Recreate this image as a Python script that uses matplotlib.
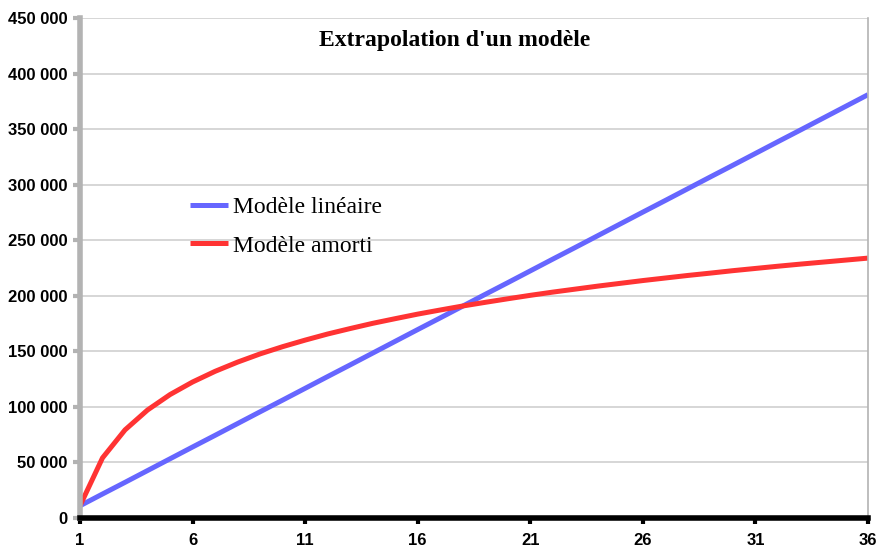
import matplotlib
matplotlib.use("Agg")
import matplotlib.pyplot as plt
from matplotlib.ticker import FuncFormatter

# valeurs
periodes = list(range(1, 37))
lineaire = [11000, 21600, 32100, 42700, 53300, 63900, 74400, 85000, 95600, 106100,
            116700, 127300, 137800, 148400, 159000, 169600, 180100, 190700, 201300, 211800,
            222400, 233000, 243500, 254100, 264700, 275300, 285800, 296400, 307000, 317500,
            328100, 338700, 349200, 359800, 370400, 381000]
amorti = [11000, 54100, 79300, 97200, 111100, 122400, 132000, 140300, 147700, 154200,
          160100, 165600, 170500, 175200, 179400, 183500, 187200, 190800, 194100, 197300,
          200400, 203300, 206000, 208700, 211200, 213700, 216000, 218300, 220400, 222600,
          224600, 226600, 228500, 230300, 232100, 233900]
xticks = [1, 6, 11, 16, 21, 26, 31, 36]
yticks = list(range(0, 450001, 50000))

fig = plt.figure(figsize=(8.8, 5.5), dpi=100)
ax = fig.add_axes([80 / 880, 32 / 550, 788 / 880, 500 / 550])

ax.plot(periodes, lineaire, color="#6666ff", lw=3.6, label="Modèle linéaire", solid_capstyle="butt")
ax.plot(periodes, amorti, color="#ff3333", lw=3.6, label="Modèle amorti", solid_capstyle="butt")

ax.set_xlim(1, 36)
ax.set_ylim(0, 450000)
ax.set_xticks(xticks)
ax.set_yticks(yticks)
ax.yaxis.set_major_formatter(FuncFormatter(lambda v, p: f"{int(v):,}".replace(",", " ")))

ax.grid(axis="y", color="#d0d0d0", lw=1.2)
ax.set_axisbelow(True)

ax.spines["top"].set_visible(False)
ax.spines["right"].set_color("#b3b3b3")
ax.spines["right"].set_linewidth(1.2)
ax.spines["left"].set_color("#b3b3b3")
ax.spines["left"].set_linewidth(4)
ax.spines["bottom"].set_color("black")
ax.spines["bottom"].set_linewidth(4)

ax.tick_params(axis="y", color="#b3b3b3", width=3, length=5, pad=4)
ax.tick_params(axis="x", color="black", width=3, length=4, pad=7)
for lab in ax.get_yticklabels() + ax.get_xticklabels():
    lab.set_fontfamily("Liberation Sans")
    lab.set_fontweight("bold")
    lab.set_fontsize(12)

ax.text(0.476, 0.955, "Extrapolation d'un modèle", transform=ax.transAxes,
        ha="center", va="center", fontsize=17, fontweight="bold", family="Liberation Serif")

ax.legend(loc="upper left", bbox_to_anchor=(0.14, 0.643), frameon=False,
          prop={"family": "Liberation Serif", "size": 17}, handlelength=1.6,
          handletextpad=0.2, labelspacing=0.72, borderpad=0, borderaxespad=0)

fig.savefig("out.png", dpi=100)
